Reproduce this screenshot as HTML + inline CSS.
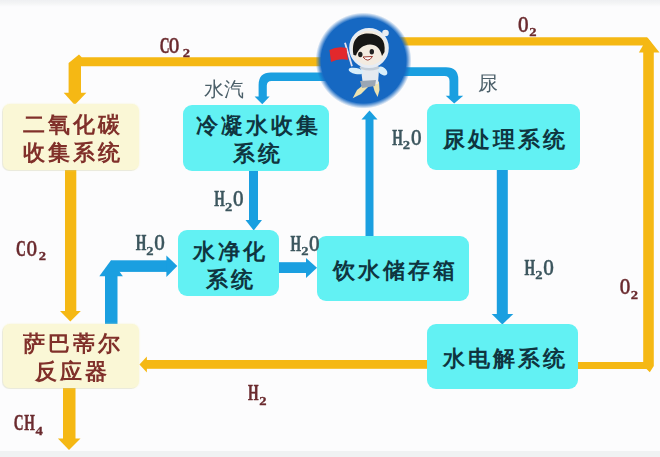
<!DOCTYPE html>
<html><head><meta charset="utf-8">
<style>
html,body{margin:0;padding:0;}
body{width:660px;height:457px;position:relative;overflow:hidden;background:#fcfcfd;font-family:"Liberation Sans",sans-serif;}
.topstrip{position:absolute;left:0;top:0;width:660px;height:7px;background:linear-gradient(#eff0f2,#f3f4f5 40%,rgba(252,252,253,0));}
.botstrip{position:absolute;left:0;top:450.5px;width:660px;height:7px;background:#f0f2f3;}
svg.main{position:absolute;left:0;top:0;}
.box{position:absolute;box-sizing:border-box;display:flex;align-items:center;justify-content:center;text-align:center;font-size:22px;line-height:28px;letter-spacing:3px;padding-top:3.5px;padding-left:4px;font-weight:900;}
.cy{background:#62f1f3;color:#0f3540;border-radius:9px;}
.yl{background:#faf7d6;color:#80302a;border-radius:7px;box-shadow:-1px 1px 0 rgba(120,130,100,0.13), 0 0 2px rgba(250,245,200,0.9);}
.lbl{position:absolute;font-size:20px;color:#4b5f69;line-height:24px;white-space:nowrap;}
.cm{font-family:"Liberation Serif",serif;font-size:23px;font-weight:bold;text-anchor:middle;}
.cs{font-family:"Liberation Serif",serif;font-size:13.3px;font-weight:bold;text-anchor:middle;}
#wrap{position:absolute;left:0;top:0;width:660px;height:457px;filter:blur(0.45px);}
</style></head><body><div id="wrap">
<div class="topstrip"></div>
<div class="botstrip"></div>

<svg class="main" width="660" height="457" viewBox="0 0 660 457">
 <g fill="#f5b814">
  <polygon points="68.6,63.1 79,54.6 81.7,57.3 339,57.3 339,66.2 81,66.2 81,94 68.6,94"/>
  <polygon points="63.7,92.7 86.4,92.7 74.7,105"/>
  <rect x="65" y="168" width="11.3" height="144"/>
  <polygon points="60,311 80.8,311 70.3,321.5"/>
  <rect x="63" y="386" width="12.5" height="53"/>
  <polygon points="57.9,438.5 80.5,438.5 69,450"/>
  <polygon points="395,37.3 647,37.3 653.3,45.6 395,45.6"/>
  <polygon points="638.9,52.6 647.5,37.5 659.5,52.6"/>
  <polygon points="643.2,46 653.8,46 653.8,366 649.8,372.2 646.5,369.1 570,369.1 570,362.1 643.2,362.1"/>
  <rect x="146" y="360" width="286" height="8.8"/>
  <polygon points="146.9,356.4 146.9,372.6 139.4,364.6"/>
 </g>
 <g fill="#1a9fe0">
  <path d="M340,72.6 L271,72.6 Q258.6,72.6 258.6,85 L258.6,97 L266.8,97 L266.8,85.6 Q266.8,80.9 271.5,80.9 L340,80.9 Z"/>
  <polygon points="254.6,96.5 269.6,96.5 262.3,104.2"/>
  <path d="M390,67.3 L446,67.3 Q458.3,67.3 458.3,79.6 L458.3,96 L449.5,96 L449.5,81 Q449.5,76 444.5,76 L390,76 Z"/>
  <polygon points="445.7,95.7 463.2,95.7 454.2,103.6"/>
  <rect x="249" y="168" width="9" height="53"/>
  <polygon points="245.5,220 262,220 253.7,230.5"/>
  <rect x="105" y="272" width="12.5" height="53"/>
  <polygon points="99.3,276.2 111,260.3 122.9,276.2"/>
  <rect x="111" y="260.3" width="57" height="11.6"/>
  <polygon points="166.4,255.5 166.4,277 177.3,266"/>
  <rect x="275" y="262.2" width="32" height="10.8"/>
  <polygon points="306,258 306,278 317,267.8"/>
  <rect x="365.5" y="118" width="8" height="120"/>
  <polygon points="361.5,119.5 377.5,119.5 369.5,110.5"/>
  <rect x="496.8" y="166" width="11" height="149"/>
  <polygon points="491.7,314 513.3,314 502.3,324.5"/>
 </g>
 <defs>
  <radialGradient id="cg" cx="0.5" cy="0.5" r="0.5">
   <stop offset="0" stop-color="#1668c2"/>
   <stop offset="0.885" stop-color="#1668c2"/>
   <stop offset="1" stop-color="#1668c2" stop-opacity="0"/>
  </radialGradient>
 </defs>
 <circle cx="363.5" cy="60.6" r="48" fill="url(#cg)"/>
 <g>
  <line x1="345" y1="42.8" x2="352" y2="66.3" stroke="#e6e2ee" stroke-width="1.8"/>
  <path d="M329.5,50 Q337,46 346.5,48 L348,60 Q339,58 331,62 Z" fill="#e2282c"/>
  <path d="M366,82.7 L357,90 L352.7,98.3 L361,94 L369,86 Z" fill="#ece2b0"/>
  <path d="M372,82 L374.5,91 L377.6,97 L379.5,90 L379,81.5 Z" fill="#ece2b0"/>
  <path d="M361,69 L379,69 L378,84 L363,86 Z" fill="#e4eaf0"/>
  <path d="M360,81 L376,80 L375,86 L362,88 Z" fill="#9aa6b4"/>
  <ellipse cx="356" cy="71" rx="7.5" ry="3" transform="rotate(12 356 71)" fill="#d8eefa"/>
  <ellipse cx="382.5" cy="71" rx="5.5" ry="3.6" transform="rotate(38 382.5 71)" fill="#d8eefa"/>
  <ellipse cx="369.5" cy="67.5" rx="10" ry="3" fill="#c4ced8"/>
  <ellipse cx="369" cy="48" rx="18.4" ry="18.6" fill="#f3ebe0" stroke="#e6ecf4" stroke-width="2.8"/>
  <circle cx="385.5" cy="33" r="3.3" fill="#e8ecf2"/>
  <path d="M353.5,55 C351,40 358,33.5 368,33.5 C380,33.5 386,40 384.5,52 L382,56 C380,48 376,44.5 370,44.5 C363,45 358.5,48.5 356,55.5 Z" fill="#161616"/>
  <ellipse cx="360.3" cy="54.5" rx="2.2" ry="2.7" fill="#202020"/>
  <ellipse cx="371.8" cy="51.8" rx="2.2" ry="2.7" fill="#202020"/>
  <path d="M363,57 Q368,63.5 372.5,56.5 Z" fill="#fff" stroke="#9a3a30" stroke-width="1"/>
 </g>
</svg>

<div class="box yl" style="left:2.5px;top:103.8px;width:136.5px;height:66.5px;">二氧化碳<br>收集系统</div>
<div class="box cy" style="left:183px;top:105px;width:146px;height:66px;">冷凝水收集<br>系统</div>
<div class="box cy" style="padding-top:5.5px;left:427px;top:104px;width:153px;height:65.5px;">尿处理系统</div>
<div class="box cy" style="padding-top:6.5px;left:178px;top:230.4px;width:101px;height:65.6px;">水净化<br>系统</div>
<div class="box cy" style="padding-top:5.5px;left:317px;top:236.4px;width:152px;height:64.5px;">饮水储存箱</div>
<div class="box yl" style="left:2.5px;top:323.8px;width:136.5px;height:64px;">萨巴蒂尔<br>反应器</div>
<div class="box cy" style="padding-top:5.5px;padding-left:6px;left:427px;top:324px;width:150.5px;height:64.5px;">水电解系统</div>

<div class="lbl" style="left:204px;top:77px;">水汽</div>
<div class="lbl" style="left:478px;top:71px;">尿</div>

<svg class="main" width="660" height="457" viewBox="0 0 660 457">
<text transform="translate(164.75,53.4) scale(0.59,1)" class="cm" fill="#6a2a2e" stroke="#6a2a2e" stroke-width="0.5">C</text>
<text transform="translate(174.1,53.4) scale(0.59,1)" class="cm" fill="#6a2a2e" stroke="#6a2a2e" stroke-width="0.5">O</text>
<text transform="translate(186.4,57.2) scale(1.1,1)" class="cs" fill="#6a2a2e" stroke="#6a2a2e" stroke-width="0.3">2</text>
<text transform="translate(523.2,32.0) scale(0.59,1)" class="cm" fill="#6a2a2e" stroke="#6a2a2e" stroke-width="0.5">O</text>
<text transform="translate(533.0,36.0) scale(1.1,1)" class="cs" fill="#6a2a2e" stroke="#6a2a2e" stroke-width="0.3">2</text>
<text transform="translate(219.5,205.9) scale(0.59,1)" class="cm" fill="#3c565e" stroke="#3c565e" stroke-width="0.5">H</text>
<text transform="translate(228.6,210.5) scale(1.1,1)" class="cs" fill="#3c565e" stroke="#3c565e" stroke-width="0.3">2</text>
<text transform="translate(238.3,205.9) scale(0.59,1)" class="cm" fill="#3c565e" stroke="#3c565e" stroke-width="0.5">O</text>
<text transform="translate(295.9,250.7) scale(0.59,1)" class="cm" fill="#3c565e" stroke="#3c565e" stroke-width="0.5">H</text>
<text transform="translate(305.0,254.9) scale(1.1,1)" class="cs" fill="#3c565e" stroke="#3c565e" stroke-width="0.3">2</text>
<text transform="translate(314.2,250.7) scale(0.59,1)" class="cm" fill="#3c565e" stroke="#3c565e" stroke-width="0.5">O</text>
<text transform="translate(397.5,145.1) scale(0.59,1)" class="cm" fill="#3c565e" stroke="#3c565e" stroke-width="0.5">H</text>
<text transform="translate(406.5,149.3) scale(1.1,1)" class="cs" fill="#3c565e" stroke="#3c565e" stroke-width="0.3">2</text>
<text transform="translate(416.2,145.1) scale(0.59,1)" class="cm" fill="#3c565e" stroke="#3c565e" stroke-width="0.5">O</text>
<text transform="translate(141.1,250.3) scale(0.59,1)" class="cm" fill="#3c565e" stroke="#3c565e" stroke-width="0.5">H</text>
<text transform="translate(150.0,254.5) scale(1.1,1)" class="cs" fill="#3c565e" stroke="#3c565e" stroke-width="0.3">2</text>
<text transform="translate(159.5,250.3) scale(0.59,1)" class="cm" fill="#3c565e" stroke="#3c565e" stroke-width="0.5">O</text>
<text transform="translate(529.9,275.1) scale(0.59,1)" class="cm" fill="#3c565e" stroke="#3c565e" stroke-width="0.5">H</text>
<text transform="translate(538.9,279.3) scale(1.1,1)" class="cs" fill="#3c565e" stroke="#3c565e" stroke-width="0.3">2</text>
<text transform="translate(548.5,275.1) scale(0.59,1)" class="cm" fill="#3c565e" stroke="#3c565e" stroke-width="0.5">O</text>
<text transform="translate(625.1,294.0) scale(0.59,1)" class="cm" fill="#6a2a2e" stroke="#6a2a2e" stroke-width="0.5">O</text>
<text transform="translate(634.5,299.0) scale(1.1,1)" class="cs" fill="#6a2a2e" stroke="#6a2a2e" stroke-width="0.3">2</text>
<text transform="translate(20.85,256.0) scale(0.59,1)" class="cm" fill="#6a2a2e" stroke="#6a2a2e" stroke-width="0.5">C</text>
<text transform="translate(31.7,256.0) scale(0.59,1)" class="cm" fill="#6a2a2e" stroke="#6a2a2e" stroke-width="0.5">O</text>
<text transform="translate(42.3,260.1) scale(1.1,1)" class="cs" fill="#6a2a2e" stroke="#6a2a2e" stroke-width="0.3">2</text>
<text transform="translate(18.6,430.0) scale(0.59,1)" class="cm" fill="#6a2a2e" stroke="#6a2a2e" stroke-width="0.5">C</text>
<text transform="translate(29.6,430.0) scale(0.59,1)" class="cm" fill="#6a2a2e" stroke="#6a2a2e" stroke-width="0.5">H</text>
<text transform="translate(39.1,434.5) scale(1.1,1)" class="cs" fill="#6a2a2e" stroke="#6a2a2e" stroke-width="0.3">4</text>
<text transform="translate(253.4,399.9) scale(0.59,1)" class="cm" fill="#6a2a2e" stroke="#6a2a2e" stroke-width="0.5">H</text>
<text transform="translate(263.0,404.5) scale(1.1,1)" class="cs" fill="#6a2a2e" stroke="#6a2a2e" stroke-width="0.3">2</text>

</svg>
</div></body></html>
